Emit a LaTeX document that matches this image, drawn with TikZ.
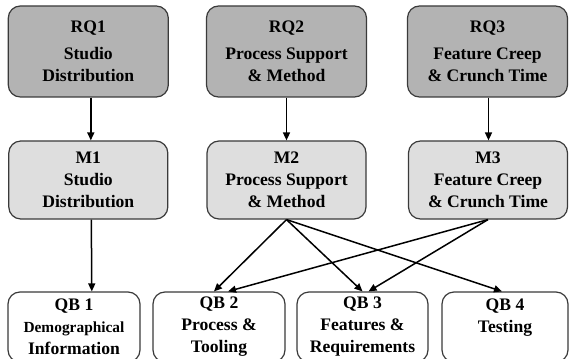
\documentclass[tikz,border=0pt]{standalone}
\usepackage{fontspec}
\setmainfont{Liberation Serif}
\usetikzlibrary{arrows.meta,calc}
\definecolor{rqfill}{HTML}{B3B3B3}
\definecolor{mfill}{HTML}{DEDEDE}
\definecolor{edgegray}{HTML}{3A3A3A}
\begin{document}
\begin{tikzpicture}[x=1pt,y=-1pt,
  box/.style={draw=edgegray, line width=1.2pt, rounded corners=12pt, align=center,
    font=\fontsize{17.6}{22}\selectfont\bfseries, inner sep=0pt},
  rq/.style={box, fill=rqfill, minimum width=160pt, minimum height=91pt},
  mm/.style={box, fill=mfill, minimum width=159pt, minimum height=78pt},
  qb/.style={box, fill=white, minimum height=70pt},
  arr/.style={-{Triangle[length=8pt,width=7pt]}, line width=1.5pt}]
\useasboundingbox (0,0) rectangle (569,358);
\node[rq] (RQ1) at (88.3,51.5) {RQ1\\[5pt]Studio\\Distribution};
\node[rq] (RQ2) at (286.5,51.5) {RQ2\\[5pt]Process Support\\\& Method};
\node[rq] (RQ3) at (487.5,51.5) {RQ3\\[5pt]Feature Creep\\\& Crunch Time};
\node[mm] (M1) at (88.3,180) {M1\\Studio\\Distribution};
\node[mm] (M2) at (286.5,180) {M2\\Process Support\\\& Method};
\node[mm] (M3) at (488,180) {M3\\Feature Creep\\\& Crunch Time};
\node[qb, minimum width=132pt] (QB1) at (74,327) {QB 1\\{\fontsize{15.4}{22}\selectfont Demographical}\\Information};
\node[qb, minimum width=132pt] (QB2) at (219,327) {QB 2\\Process \&\\Tooling};
\node[qb, minimum width=131pt] (QB3) at (362.5,327) {QB 3\\Features \&\\Requirements};
\node[qb, minimum width=126pt] (QB4) at (505,327) {QB 4\\Testing\\\mbox{}};
\draw[arr] ($(RQ1.south)+(2.5,0)$) -- ($(M1.north)+(2.5,0)$);
\draw[arr] (RQ2) -- (M2);
\draw[arr] ($(RQ3.south)+(1,0)$) -- ($(M3.north)+(0.5,0)$);
\draw[arr] ($(M1.south)+(3,0)$) -- ($(M1.south |- QB1.north)+(3.5,0)$);
\draw[arr] (M2.south) -- ($(QB2.north)+(-5,0)$);
\draw[arr] (M2.south) -- ($(QB3.north)+(0,0)$);
\draw[arr] (M2.south) -- ($(QB4.north)+(-3,0)$);
\draw[arr] (M3.south) -- ($(QB2.north)+(9,0)$);
\draw[arr] (M3.south) -- ($(QB3.north)+(6,0)$);
\end{tikzpicture}
\end{document}
